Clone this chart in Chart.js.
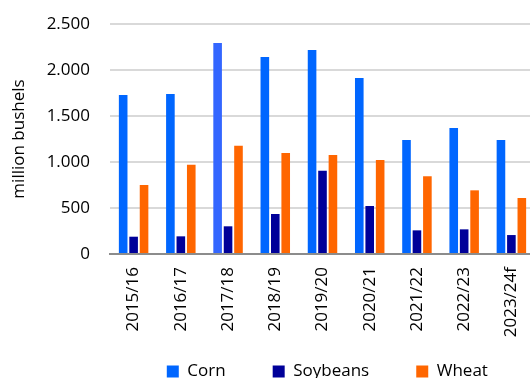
<!DOCTYPE html>
<html>
<head>
<meta charset="utf-8">
<script src="https://cdn.jsdelivr.net/npm/chart.js@4/dist/chart.umd.min.js"></script>
<style>
  html, body { margin: 0; padding: 0; background: #fff; overflow: hidden; }
  /* the plot runs a few pixels past the right edge, as in the original */
  #wrap { width: 535px; height: 378px; }
</style>
</head>
<body>
<div id="wrap"><canvas id="chart"></canvas></div>
<script>
let seasons = ['2015/16', '2016/17', '2017/18', '2018/19', '2019/20', '2020/21', '2021/22', '2022/23', '2023/24f'];
let corn = [1728, 1739, 2293, 2141, 2217, 1913, 1239, 1370, 1239];
let soybeans = [188, 192, 301, 435, 905, 522, 257, 268, 206];
let wheat = [750, 971, 1177, 1098, 1076, 1022, 845, 692, 609];
let y_ticks = [0, 500, 1000, 1500, 2000, 2500];

let FONT = "'Open Sans', 'Noto Sans', sans-serif";
let INK = '#000';

// corn 2017/18 is a slightly lighter blue in the original
let corn_colors = corn.map(function(v, i) { return i == 2 ? '#3366ff' : '#0066ff'; });

// extra room after each legend entry, the original spaces them widely
let LEGEND_GAP = '     ';

let fmt = function(v) {
    return v.toString().replace(/\B(?=(\d{3})+(?!\d))/g, '.');
};

let chart = new Chart(document.getElementById('chart'), {
    type: 'bar',
    data: {
        labels: seasons,
        datasets: [
            { label: 'Corn', data: corn, backgroundColor: corn_colors },
            { label: 'Soybeans', data: soybeans, backgroundColor: '#000099' },
            { label: 'Wheat', data: wheat, backgroundColor: '#ff6600' }
        ]
    },
    options: {
        responsive: true,
        maintainAspectRatio: false,
        animation: false,
        layout: { padding: { top: 24, right: 0, left: 0, bottom: -12 } },
        datasets: {
            bar: { categoryPercentage: 0.663, barPercentage: 0.825 }
        },
        plugins: {
            tooltip: { enabled: false },
            legend: {
                position: 'bottom',
                align: 'end',
                labels: {
                    font: { family: FONT, size: 17 },
                    color: INK,
                    boxWidth: 12,
                    boxHeight: 12,
                    padding: 25,
                    generateLabels: function(c) {
                        let items = Chart.defaults.plugins.legend.labels.generateLabels(c);
                        items.forEach(function(it, i) {
                            it.text = it.text + LEGEND_GAP;
                            if (i == 0) {
                                it.fillStyle = '#0066ff';
                            }
                        });
                        return items;
                    }
                }
            }
        },
        scales: {
            x: {
                grid: { display: false, drawTicks: false },
                border: { color: '#8c8c8c', width: 2 },
                ticks: {
                    font: { family: FONT, size: 17 },
                    color: INK,
                    minRotation: 90,
                    maxRotation: 90,
                    autoSkip: false,
                    padding: 13
                },
                afterFit: function(axis) {
                    axis.height = 84;
                    axis.paddingLeft = 0;
                    axis.paddingRight = 0;
                }
            },
            y: {
                min: 0,
                max: 2500,
                afterBuildTicks: function(axis) {
                    axis.ticks = y_ticks.map(function(v) { return { value: v }; });
                },
                grid: { color: '#d9d9d9', lineWidth: 2, drawTicks: false },
                border: { display: false },
                ticks: {
                    font: { family: FONT, size: 17 },
                    color: INK,
                    padding: 20,
                    callback: function(v) { return fmt(v); }
                },
                title: {
                    display: true,
                    text: 'million bushels',
                    font: { family: FONT, size: 17 },
                    color: INK,
                    padding: { top: 9, bottom: 0 }
                },
                afterFit: function(axis) {
                    axis.width = 110;
                    axis.paddingTop = 0;
                    axis.paddingBottom = 0;
                }
            }
        }
    }
});
</script>
</body>
</html>
